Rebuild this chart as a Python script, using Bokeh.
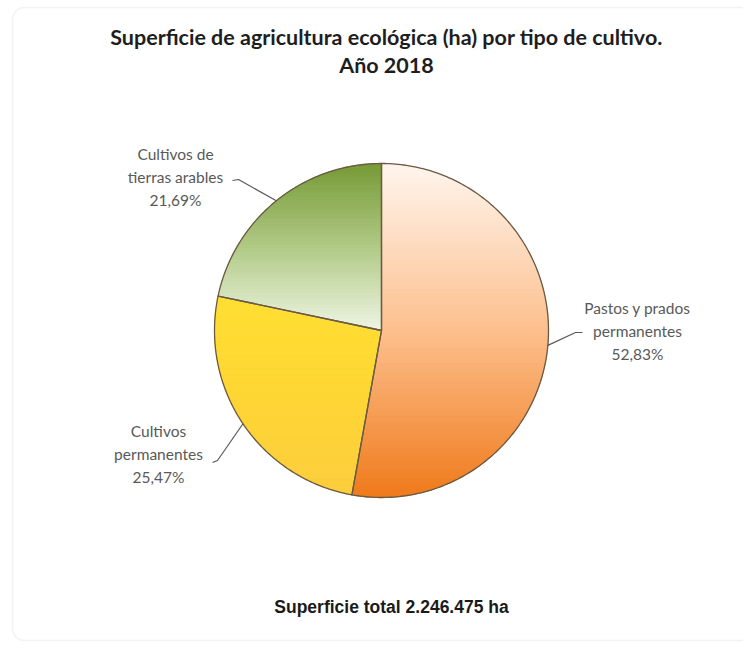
import numpy as np
from bokeh.plotting import figure
from bokeh.models import Range1d, BoxAnnotation
from bokeh.core.properties import value
from bokeh.embed import file_html
from bokeh.resources import INLINE

# ---------------- data ----------------
categories = ["Pastos y prados permanentes", "Cultivos permanentes", "Cultivos de tierras arables"]
shares = [52.83, 25.47, 21.69]
pct_labels = ["52,83%", "25,47%", "21,69%"]
label_lines = [["Pastos y prados", "permanentes"], ["Cultivos", "permanentes"], ["Cultivos de", "tierras arables"]]
title_lines = ["Superficie de agricultura ecológica (ha) por tipo de cultivo.", "Año 2018"]
total_label = "Superficie total 2.246.475 ha"

# ---------------- style ----------------
# vertical gradient stops (top, middle, bottom) per slice
grad_stops = [
    ["#fef5ee", "#fdc08e", "#ef7a1b"],
    ["#ffdf33", "#fed633", "#fccd3e"],
    ["#769a35", "#b0c985", "#eef5e3"],
]
edge_color = "#6a5a42"
label_color = "#595959"

W, H = 743, 642
def X(rx):
    return rx
def Y(ry):
    return H - ry

cx, cy, R = X(381), Y(330), 167.0

p = figure(width=W, height=H, x_range=Range1d(0, W), y_range=Range1d(0, H),
           output_backend="svg", toolbar_location=None, min_border=0)
p.axis.visible = False
p.grid.visible = False
p.outline_line_color = None
p.background_fill_color = "white"
p.border_fill_color = "white"

# chart frame
p.add_layout(BoxAnnotation(left=X(12), right=X(800), bottom=Y(640), top=Y(7),
                           fill_color=None, line_color="#d4d4d4", line_width=1.5,
                           border_radius=12))

def hex2rgb(h):
    h = h.lstrip("#")
    return np.array([int(h[i:i + 2], 16) for i in (0, 2, 4)], dtype=float)

def interp(stops, t):
    t = min(max(t, 0.0), 1.0)
    cols = [hex2rgb(s) for s in stops]
    seg = t * (len(cols) - 1)
    i = min(int(seg), len(cols) - 2)
    f = seg - i
    c = cols[i] * (1 - f) + cols[i + 1] * f
    return "#%02x%02x%02x" % tuple(int(round(v)) for v in c)

def clip_half(poly, yb, keep_above):
    out = []
    n = len(poly)
    def inside(pt):
        return pt[1] >= yb if keep_above else pt[1] <= yb
    def inter(a, b):
        t = (yb - a[1]) / (b[1] - a[1])
        return (a[0] + t * (b[0] - a[0]), yb)
    for i in range(n):
        cur, prev = poly[i], poly[i - 1]
        ci, pi_ = inside(cur), inside(prev)
        if ci:
            if not pi_:
                out.append(inter(prev, cur))
            out.append(cur)
        elif pi_:
            out.append(inter(prev, cur))
    return out

total = sum(shares)
cum = np.concatenate([[0.0], np.cumsum(shares)])
a_start = np.pi / 2 - 2 * np.pi * cum[:-1] / total
a_end = np.pi / 2 - 2 * np.pi * cum[1:] / total
a_mid = (a_start + a_end) / 2

slice_polys = []
for k in range(len(shares)):
    angs = np.linspace(a_start[k], a_end[k], 200)
    pts = [(cx, cy)] + [(cx + R * np.cos(a), cy + R * np.sin(a)) for a in angs]
    slice_polys.append(pts)

# gradient strips
nb = 90
edges = np.linspace(cy + R, cy - R, nb + 1)
for k, poly in enumerate(slice_polys):
    ys = [pt[1] for pt in poly]
    ytop, ybot = max(ys), min(ys)
    xs_l, ys_l, cols = [], [], []
    for b in range(nb):
        y1, y0 = edges[b], edges[b + 1]
        if y0 > ytop or y1 < ybot:
            continue
        c = clip_half(poly, y0, True)
        if len(c) < 3:
            continue
        c = clip_half(c, y1, False)
        if len(c) < 3:
            continue
        t = (ytop - (y0 + y1) / 2) / (ytop - ybot)
        xs_l.append([q[0] for q in c])
        ys_l.append([q[1] for q in c])
        cols.append(interp(grad_stops[k], t))
    p.patches(xs_l, ys_l, fill_color=cols, line_color=cols, line_width=1)

# slice outlines
for poly in slice_polys:
    p.patch([q[0] for q in poly], [q[1] for q in poly], fill_color=None,
            line_color=edge_color, line_width=1.3, line_join="round")

# leader lines and labels (label block anchors are layout positions)
label_pos = [  # (text centre x, first line y) in reference pixels
    (637, 307),
    (158, 430),
    (175, 153),
]
leader_knee = [((575, 332), (582, 332)), ((217, 460), (212, 462)), ((238, 179), (232, 180))]
line_gap = 23

for k in range(len(shares)):
    ex, ey = cx + R * np.cos(a_mid[k]), cy + R * np.sin(a_mid[k])
    (kx, ky), (tx, ty) = leader_knee[k]
    p.line([ex, X(kx), X(tx)], [ey, Y(ky), Y(ty)], line_color=label_color, line_width=1.2)
    lx, ly = label_pos[k]
    texts = label_lines[k] + [pct_labels[k]]
    p.text(x=[X(lx)] * 3, y=[Y(ly + i * line_gap) for i in range(3)], text=texts,
           text_font=value("Lato"), text_font_size="15.5px", text_color=label_color,
           text_align="center", text_baseline="middle")

# title
p.text(x=[X(386)] * 2, y=[Y(36), Y(64)], text=title_lines,
       text_font=value("Lato"), text_font_style="bold", text_font_size="21.5px",
       text_color="#1e1e1e", text_align="center", text_baseline="middle")

# footer
p.text(x=[X(391)], y=[Y(606)], text=[total_label],
       text_font=value("Liberation Sans"), text_font_style="bold", text_font_size="17.5px",
       text_color="#1a1a1a", text_align="center", text_baseline="middle")

open("out.html", "w").write(file_html(p, INLINE))
